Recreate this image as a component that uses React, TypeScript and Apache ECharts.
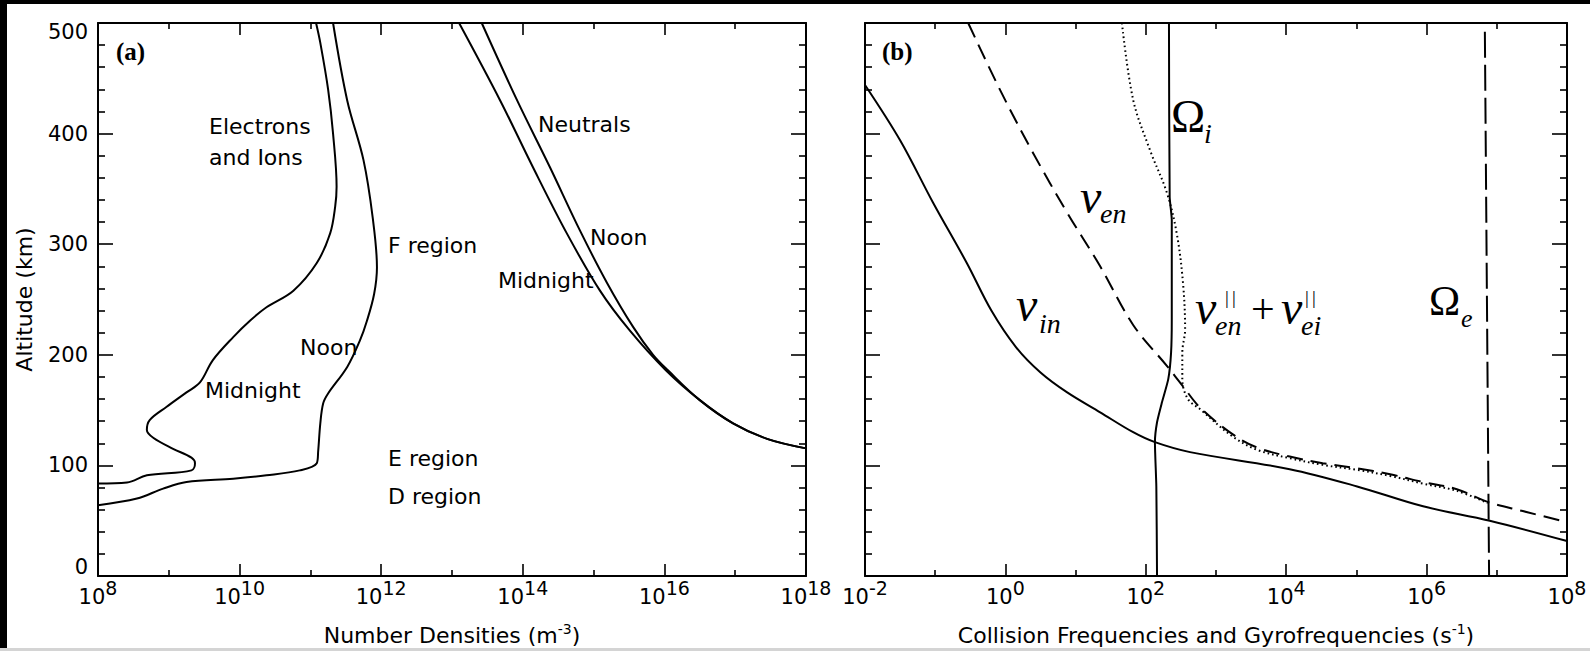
import React, { useEffect, useRef } from "react";
import * as echarts from "echarts";

// ---------------- Panel (a): altitude (km) vs log10 number density (m^-3) ----------------
const electronMidnightAlt = [500, 482, 440, 400, 352, 334, 310, 283, 258, 243, 231, 216, 195, 175, 166, 153, 141, 132, 125, 115, 107, 102, 95.5, 91, 84.6, 83.7];
const electronMidnightLogN = [11.08, 11.14, 11.25, 11.32, 11.37, 11.35, 11.28, 11.09, 10.76, 10.38, 10.15, 9.91, 9.62, 9.44, 9.25, 8.97, 8.73, 8.69, 8.78, 9.06, 9.32, 9.37, 9.32, 8.69, 8.41, 8.0];

const electronNoonAlt = [500, 430, 376, 324, 279, 255, 231, 213, 189, 165, 156, 138, 113, 102, 95.5, 91, 88, 85, 79, 70, 64];
const electronNoonLogN = [11.32, 11.52, 11.75, 11.88, 11.94, 11.9, 11.8, 11.7, 11.52, 11.25, 11.18, 11.14, 11.11, 11.09, 10.85, 10.38, 9.91, 9.25, 8.92, 8.55, 8.0];

const neutralMidnightAlt = [500, 430, 370, 310, 258, 222, 186, 159, 138, 124, 115.4];
const neutralMidnightLogN = [13.1, 13.68, 14.14, 14.62, 15.09, 15.51, 16.02, 16.5, 16.97, 17.45, 18.0];

const neutralNoonAlt = [500, 430, 370, 312, 265, 225, 200, 186, 159, 138, 124, 115.4];
const neutralNoonLogN = [13.42, 13.92, 14.38, 14.81, 15.19, 15.56, 15.84, 16.05, 16.5, 16.97, 17.45, 18.0];

// ---------------- Panel (b): altitude (km) vs log10 frequency (s^-1) ----------------
const nuInAlt = [444, 394, 337.5, 283, 240, 207, 184, 166, 148, 130, 121, 112, 96.6, 81, 63, 50, 31.6];
const nuInLogF = [-2, -1.5, -1.03, -0.55, -0.2, 0.15, 0.5, 0.88, 1.35, 1.82, 2.13, 2.63, 4.05, 5.01, 5.95, 6.9, 8.0];

const nuEnAlt = [500, 440, 383, 328.5, 280, 227, 190, 171.5, 152.5, 128, 116, 108, 102, 97.5, 92, 85, 78.5, 67, 58.7, 48.7];
const nuEnLogF = [-0.53, -0.08, 0.39, 0.88, 1.35, 1.82, 2.3, 2.53, 2.77, 3.24, 3.59, 4.05, 4.52, 5.0, 5.48, 5.95, 6.43, 6.87, 7.37, 8.0];

const nuParallelAlt = [500, 430.5, 385, 346.6, 310, 265, 223, 202, 178, 160, 151, 126, 114, 106.5, 100.5, 96, 90.5, 83.5, 77, 66];
const nuParallelLogF = [1.66, 1.82, 2.06, 2.3, 2.44, 2.53, 2.56, 2.52, 2.52, 2.6, 2.77, 3.24, 3.59, 4.05, 4.52, 5.0, 5.48, 5.95, 6.43, 6.87];

const omegaIAlt = [500, 343, 322, 232, 202, 178, 157, 139, 121, 81, 0];
const omegaILogF = [2.33, 2.34, 2.37, 2.37, 2.36, 2.32, 2.23, 2.16, 2.13, 2.15, 2.16];

const omegaEAlt = [492, 0];
const omegaELogF = [6.83, 6.89];

// axis ranges / ticks
const altTicks = [0, 100, 200, 300, 400, 500];
const densityExpRange = [8, 18];
const freqExpRange = [-2, 8];

const SANS = "'DejaVu Sans', 'Noto Sans', sans-serif";
const SERIF = "'Liberation Serif', 'Times New Roman', serif";
const BLACK = "#000";

const pairs = (xs: number[], ys: number[]) => xs.map((x, i) => [x, ys[i]]);

function xAxisPair(gridIndex: number, range: number[], name: string) {
  const common = {
    type: "value",
    gridIndex,
    min: range[0],
    max: range[1],
    interval: 2,
    splitLine: { show: false },
    minorSplitLine: { show: false },
    axisLine: { show: true, onZero: false, lineStyle: { color: BLACK, width: 2 } },
    axisTick: { show: true, inside: true, length: 12, lineStyle: { color: BLACK, width: 1.6 } },
    minorTick: { show: true, splitNumber: 2, length: 6, lineStyle: { color: BLACK, width: 1.6 } },
  };
  return [
    {
      ...common,
      position: "bottom",
      axisLabel: {
        show: true,
        margin: 8,
        showMinLabel: true,
        showMaxLabel: true,
        formatter: (v: number) => `{b|10}{s|${v}}`,
        rich: {
          b: { fontSize: 21, fontFamily: SANS, color: BLACK, verticalAlign: "bottom", lineHeight: 23 },
          s: { fontSize: 19, fontFamily: SANS, color: BLACK, verticalAlign: "bottom", lineHeight: 20, padding: [0, 0, 10, 0] },
        },
      },
      name,
      nameLocation: "middle",
      nameGap: 46,
      nameTextStyle: {
        rich: {
          b: { fontSize: 22, fontFamily: SANS, color: BLACK, verticalAlign: "bottom", lineHeight: 24 },
          s: { fontSize: 14, fontFamily: SANS, color: BLACK, verticalAlign: "bottom", lineHeight: 16, padding: [0, 0, 10, 0] },
        },
      },
    },
    { ...common, position: "top", axisLabel: { show: false } },
  ];
}

function yAxisPair(gridIndex: number, withLabels: boolean) {
  const common = {
    type: "value",
    gridIndex,
    min: altTicks[0],
    max: altTicks[altTicks.length - 1],
    interval: 100,
    splitLine: { show: false },
    minorSplitLine: { show: false },
    axisLine: { show: true, onZero: false, lineStyle: { color: BLACK, width: 2 } },
    axisTick: { show: true, inside: true, length: 15, lineStyle: { color: BLACK, width: 1.6 } },
    minorTick: { show: true, splitNumber: 5, length: 7, lineStyle: { color: BLACK, width: 1.6 } },
  };
  const left: any = {
    ...common,
    position: "left",
    axisLabel: withLabels
      ? {
          show: true,
          margin: 10,
          formatter: (v: number) => (v === 500 ? `{t|${v}}` : v === 0 ? `{z|${v}}` : `{n|${v}}`),
          rich: {
            n: { fontSize: 21, fontFamily: SANS, color: BLACK, lineHeight: 21 },
            t: { fontSize: 21, fontFamily: SANS, color: BLACK, lineHeight: 21, padding: [18, 0, 0, 0] },
            z: { fontSize: 21, fontFamily: SANS, color: BLACK, lineHeight: 21, padding: [0, 0, 18, 0] },
          },
        }
      : { show: false },
  };
  if (withLabels) {
    left.name = "Altitude (km)";
    left.nameLocation = "middle";
    left.nameRotate = 90;
    left.nameGap = 63;
    left.nameTextStyle = { fontSize: 22, fontFamily: SANS, color: BLACK };
  }
  return [left, { ...common, position: "right", axisLabel: { show: false } }];
}

function curve(name: string, xs: number[], ys: number[], panel: number, style: any = {}, smooth: number = 0.35) {
  return {
    type: "line",
    name,
    xAxisIndex: panel * 2,
    yAxisIndex: panel * 2,
    data: pairs(xs, ys),
    showSymbol: false,
    symbol: "none",
    smooth,
    silent: true,
    lineStyle: { color: BLACK, width: 2, ...style },
  };
}

type T = { text: string; x: number; y: number; size: number; family?: string; italic?: boolean; bold?: boolean };
const annotations: T[] = [
  { text: "(a)", x: 116, y: 51, size: 25, family: SERIF, bold: true },
  { text: "Electrons", x: 209, y: 126, size: 22 },
  { text: "and Ions", x: 209, y: 157, size: 22 },
  { text: "F region", x: 388, y: 245, size: 22 },
  { text: "Noon", x: 300, y: 347, size: 22 },
  { text: "Midnight", x: 205, y: 390, size: 22 },
  { text: "E region", x: 388, y: 458, size: 22 },
  { text: "D region", x: 388, y: 496, size: 22 },
  { text: "Neutrals", x: 538, y: 124, size: 22 },
  { text: "Noon", x: 590, y: 237, size: 22 },
  { text: "Midnight", x: 498, y: 280, size: 22 },
  { text: "(b)", x: 882, y: 51, size: 25, family: SERIF, bold: true },
  { text: "Ω", x: 1171, y: 116, size: 46, family: SERIF },
  { text: "i", x: 1204, y: 133, size: 28, family: SERIF, italic: true },
  { text: "ν", x: 1080, y: 196, size: 48, family: SERIF, italic: true },
  { text: "en", x: 1100, y: 213, size: 28, family: SERIF, italic: true },
  { text: "ν", x: 1016, y: 304, size: 48, family: SERIF, italic: true },
  { text: "in", x: 1039, y: 323, size: 28, family: SERIF, italic: true },
  { text: "ν", x: 1195, y: 307, size: 48, family: SERIF, italic: true },
  { text: "|", x: 1225, y: 297, size: 19, family: SERIF },
  { text: "|", x: 1232, y: 297, size: 19, family: SERIF },
  { text: "en", x: 1215, y: 325, size: 28, family: SERIF, italic: true },
  { text: "+", x: 1251, y: 309, size: 42, family: SERIF },
  { text: "ν", x: 1281, y: 307, size: 48, family: SERIF, italic: true },
  { text: "|", x: 1305, y: 297, size: 19, family: SERIF },
  { text: "|", x: 1312, y: 297, size: 19, family: SERIF },
  { text: "ei", x: 1301, y: 325, size: 28, family: SERIF, italic: true },
  { text: "Ω", x: 1429, y: 301, size: 42, family: SERIF },
  { text: "e", x: 1461, y: 318, size: 26, family: SERIF, italic: true },
];

export default function App() {
  const ref = useRef<HTMLDivElement>(null);
  useEffect(() => {
    if (!ref.current) return;
    const chart = echarts.init(ref.current, null, { renderer: "svg" });
    const xA = xAxisPair(0, densityExpRange, "{b|Number Densities (m}{s|-3}{b|)}");
    const xB = xAxisPair(1, freqExpRange, "{b|Collision Frequencies and Gyrofrequencies (s}{s|-1}{b|)}");
    const yA = yAxisPair(0, true);
    const yB = yAxisPair(1, false);
    chart.setOption({
      animation: false,
      backgroundColor: "#fff",
      grid: [
        { left: 98, top: 23, width: 708, height: 554, containLabel: false },
        { left: 865, top: 23, width: 702, height: 554, containLabel: false },
      ],
      xAxis: [...xA, ...xB],
      yAxis: [...yA, ...yB],
      series: [
        curve("Electrons midnight", electronMidnightLogN, electronMidnightAlt, 0),
        curve("Electrons noon", electronNoonLogN, electronNoonAlt, 0),
        curve("Neutrals midnight", neutralMidnightLogN, neutralMidnightAlt, 0),
        curve("Neutrals noon", neutralNoonLogN, neutralNoonAlt, 0),
        curve("nu_in", nuInLogF, nuInAlt, 1),
        curve("nu_en", nuEnLogF, nuEnAlt, 1, { type: [16, 8] }),
        curve("nu_parallel", nuParallelLogF, nuParallelAlt, 1, { type: [1.6, 3], width: 2 }),
        curve("Omega_i", omegaILogF, omegaIAlt, 1, {}, 0.2),
        curve("Omega_e", omegaELogF, omegaEAlt, 1, { type: [26, 7] }, 0),
      ],
      graphic: {
        elements: [
          { type: "rect", z: 200, silent: true, shape: { x: 0, y: 0, width: 1590, height: 4 }, style: { fill: "#000" } },
          { type: "rect", z: 200, silent: true, shape: { x: 0, y: 0, width: 7, height: 649 }, style: { fill: "#000" } },
          { type: "rect", z: 200, silent: true, shape: { x: 0, y: 648, width: 1590, height: 3 }, style: { fill: "#d4d4d4" } },
          ...annotations.map((a) => ({
            type: "text",
            z: 150,
            silent: true,
            x: a.x,
            y: a.y,
            style: {
              text: a.text,
              fill: BLACK,
              fontSize: a.size,
              fontFamily: a.family || SANS,
              fontStyle: a.italic ? "italic" : "normal",
              fontWeight: a.bold ? "bold" : "normal",
              align: "left",
              verticalAlign: "middle",
            },
          })),
        ],
      },
    });
    return () => chart.dispose();
  }, []);
  return (
    <div
      ref={ref}
      style={{ position: "fixed", left: 0, top: 0, width: 1590, height: 651, background: "#fff" }}
    />
  );
}
